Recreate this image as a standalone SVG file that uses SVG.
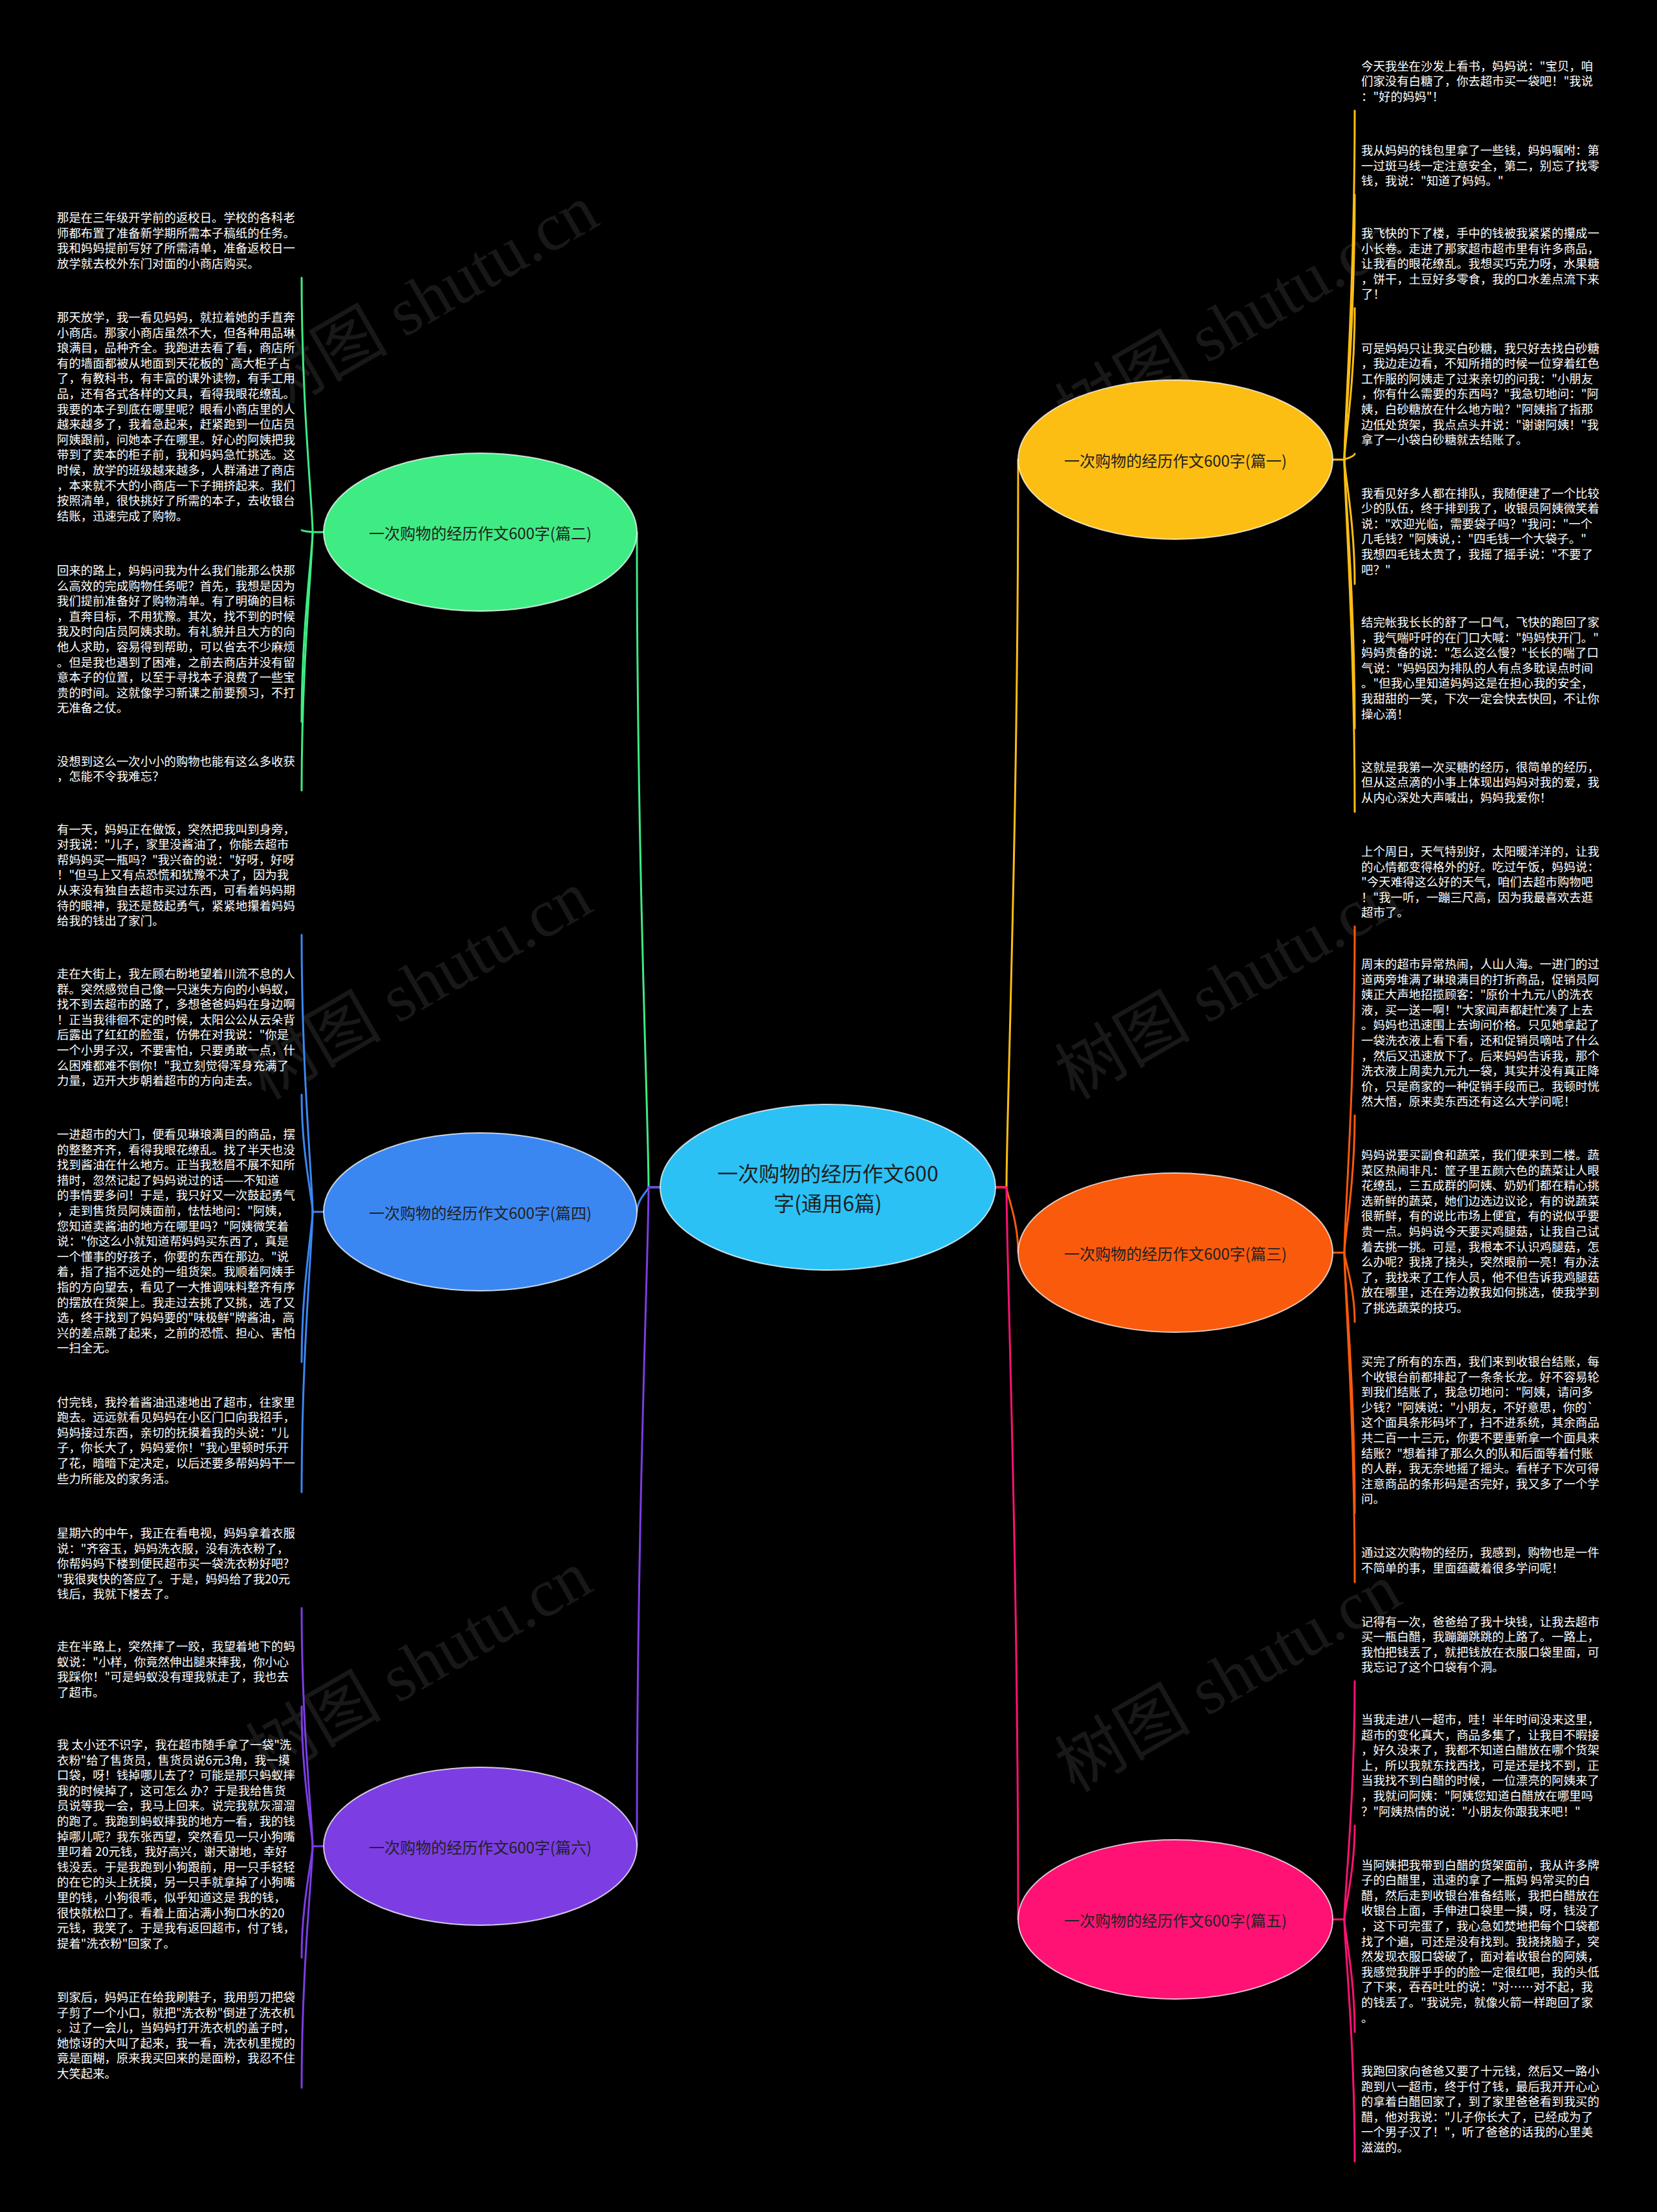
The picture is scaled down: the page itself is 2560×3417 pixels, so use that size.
<svg xmlns="http://www.w3.org/2000/svg" width="2560" height="3417" viewBox="0 0 2560 3417">
<style>
.t{font-family:"Noto Sans CJK SC","Noto Sans",sans-serif;font-size:18.4px;fill:#ffffff;dominant-baseline:central}
.nt{font-family:"Noto Sans CJK SC","Noto Sans",sans-serif;font-size:24px;fill:#222222;text-anchor:middle;dominant-baseline:central}
.ct{font-family:"Noto Sans CJK SC","Noto Sans",sans-serif;font-size:32px;fill:#1e1e1e;text-anchor:middle;dominant-baseline:central}
.wm{font-family:"Liberation Serif","Noto Sans CJK SC",serif;font-size:105px;fill:#181818}
.c{fill:none;stroke-width:3;stroke-linecap:round}
.ell{stroke:#ffffff;stroke-opacity:0.75;stroke-width:2}
</style>
<rect x="0" y="0" width="2560" height="3417" fill="#000000"/>
<g id="watermark">
<text class="wm" transform="translate(420,640) rotate(-30)">树图 shutu.cn</text>
<text class="wm" transform="translate(1660,680) rotate(-30)">树图 shutu.cn</text>
<text class="wm" transform="translate(410,1700) rotate(-30)">树图 shutu.cn</text>
<text class="wm" transform="translate(1660,1700) rotate(-30)">树图 shutu.cn</text>
<text class="wm" transform="translate(410,2750) rotate(-30)">树图 shutu.cn</text>
<text class="wm" transform="translate(1660,2770) rotate(-30)">树图 shutu.cn</text>
</g>
<g id="connectors">
<g stroke="#FDBE14" class="c">
<path d="M1538,1834 H1555 C1555,1721.6 1573,1272 1573,710"/>
<path d="M2059,710 H2077"/>
<path d="M2077,710 C2077,656.1 2093,440.5 2093,171"/>
<path d="M2077,710 C2077,669.1 2093,505.5 2093,301"/>
<path d="M2077,710 C2077,686.6 2093,593 2093,476"/>
<path d="M2077,710 C2077,709.1 2093,705.5 2093,701"/>
<path d="M2077,710 C2077,729.2 2093,806 2093,902"/>
<path d="M2077,710 C2077,751.5 2093,917.5 2093,1125"/>
<path d="M2077,710 C2077,764.4 2093,982 2093,1254"/>
</g>
<g stroke="#FA5A0C" class="c">
<path d="M1538,1834 H1555 C1555,1844.1 1573,1884.5 1573,1935"/>
<path d="M2059,1935 H2077"/>
<path d="M2077,1935 C2077,1884.6 2093,1683 2093,1431"/>
<path d="M2077,1935 C2077,1913.8 2093,1829 2093,1723"/>
<path d="M2077,1935 C2077,1945.7 2093,1988.5 2093,2042"/>
<path d="M2077,1935 C2077,1975.2 2093,2136 2093,2337"/>
<path d="M2077,1935 C2077,1985.9 2093,2189.5 2093,2444"/>
</g>
<g stroke="#FF1274" class="c">
<path d="M1538,1834 H1555 C1555,1947.1 1573,2399.5 1573,2965"/>
<path d="M2059,2965 H2077"/>
<path d="M2077,2965 C2077,2928.2 2093,2781 2093,2597"/>
<path d="M2077,2965 C2077,2950.5 2093,2892.5 2093,2820"/>
<path d="M2077,2965 C2077,2982.4 2093,3052 2093,3139"/>
<path d="M2077,2965 C2077,3002.4 2093,3152 2093,3339"/>
</g>
<g stroke="#3FEC84" class="c">
<path d="M1020,1834 H1002 C1002,1732.8 984,1328 984,822"/>
<path d="M500,822 H483"/>
<path d="M483,822 C483,782.7 466,625.5 466,429"/>
<path d="M483,822 C483,821.7 466,820.5 466,819"/>
<path d="M483,822 C483,851.3 466,968.5 466,1115"/>
<path d="M483,822 C483,861.9 466,1021.5 466,1221"/>
</g>
<g stroke="#3B87F2" class="c">
<path d="M1020,1834 H1002 C1002,1837.8 984,1853 984,1872"/>
<path d="M500,1872 H483"/>
<path d="M483,1872 C483,1829.2 466,1658 466,1444"/>
<path d="M483,1872 C483,1853.9 466,1781.5 466,1691"/>
<path d="M483,1872 C483,1895.2 466,1988 466,2104"/>
<path d="M483,1872 C483,1915.3 466,2088.5 466,2305"/>
</g>
<g stroke="#7C3DE3" class="c">
<path d="M1020,1834 H1002 C1002,1935.8 984,2343 984,2852"/>
<path d="M500,2852 H483"/>
<path d="M483,2852 C483,2815.2 466,2668 466,2484"/>
<path d="M483,2852 C483,2830.4 466,2744 466,2636"/>
<path d="M483,2852 C483,2869.2 466,2938 466,3024"/>
<path d="M483,2852 C483,2889.3 466,3038.5 466,3225"/>
</g>
</g>
<g id="node-center">
<ellipse class="ell" cx="1279" cy="1834" rx="259" ry="128" fill="#2BC1F5"/>
<text class="ct" x="1279" y="1811">一次购物的经历作文600</text>
<text class="ct" x="1279" y="1857">字(通用6篇)</text>
</g>
<g id="node-p1">
<ellipse class="ell" cx="1816" cy="710" rx="243" ry="123" fill="#FDBE14"/>
<text class="nt" x="1816" y="710">一次购物的经历作文600字(篇一)</text>
</g>
<g id="node-p3">
<ellipse class="ell" cx="1816" cy="1935" rx="243" ry="123" fill="#FA5A0C"/>
<text class="nt" x="1816" y="1935">一次购物的经历作文600字(篇三)</text>
</g>
<g id="node-p5">
<ellipse class="ell" cx="1816" cy="2965" rx="243" ry="123" fill="#FF1274"/>
<text class="nt" x="1816" y="2965">一次购物的经历作文600字(篇五)</text>
</g>
<g id="node-p2">
<ellipse class="ell" cx="742" cy="822" rx="242" ry="122" fill="#3FEC84"/>
<text class="nt" x="742" y="822">一次购物的经历作文600字(篇二)</text>
</g>
<g id="node-p4">
<ellipse class="ell" cx="742" cy="1872" rx="242" ry="122" fill="#3B87F2"/>
<text class="nt" x="742" y="1872">一次购物的经历作文600字(篇四)</text>
</g>
<g id="node-p6">
<ellipse class="ell" cx="742" cy="2852" rx="242" ry="122" fill="#7C3DE3"/>
<text class="nt" x="742" y="2852">一次购物的经历作文600字(篇六)</text>
</g>
<g id="leaf-p2-1"><text class="t" x="88" y="335"><tspan x="88" dy="0">那是在三年级开学前的返校日。学校的各科老</tspan><tspan x="88" dy="23.6">师都布置了准备新学期所需本子稿纸的任务。</tspan><tspan x="88" dy="23.6">我和妈妈提前写好了所需清单，准备返校日一</tspan><tspan x="88" dy="23.6">放学就去校外东门对面的小商店购买。</tspan></text></g>
<g id="leaf-p2-2"><text class="t" x="88" y="489"><tspan x="88" dy="0">那天放学，我一看见妈妈，就拉着她的手直奔</tspan><tspan x="88" dy="23.6">小商店。那家小商店虽然不大，但各种用品琳</tspan><tspan x="88" dy="23.6">琅满目，品种齐全。我跑进去看了看，商店所</tspan><tspan x="88" dy="23.6">有的墙面都被从地面到天花板的`高大柜子占</tspan><tspan x="88" dy="23.6">了，有教科书，有丰富的课外读物，有手工用</tspan><tspan x="88" dy="23.6">品，还有各式各样的文具，看得我眼花缭乱。</tspan><tspan x="88" dy="23.6">我要的本子到底在哪里呢？眼看小商店里的人</tspan><tspan x="88" dy="23.6">越来越多了，我着急起来，赶紧跑到一位店员</tspan><tspan x="88" dy="23.6">阿姨跟前，问她本子在哪里。好心的阿姨把我</tspan><tspan x="88" dy="23.6">带到了卖本的柜子前，我和妈妈急忙挑选。这</tspan><tspan x="88" dy="23.6">时候，放学的班级越来越多，人群涌进了商店</tspan><tspan x="88" dy="23.6">，本来就不大的小商店一下子拥挤起来。我们</tspan><tspan x="88" dy="23.6">按照清单，很快挑好了所需的本子，去收银台</tspan><tspan x="88" dy="23.6">结账，迅速完成了购物。</tspan></text></g>
<g id="leaf-p2-3"><text class="t" x="88" y="880"><tspan x="88" dy="0">回来的路上，妈妈问我为什么我们能那么快那</tspan><tspan x="88" dy="23.6">么高效的完成购物任务呢？首先，我想是因为</tspan><tspan x="88" dy="23.6">我们提前准备好了购物清单。有了明确的目标</tspan><tspan x="88" dy="23.6">，直奔目标，不用犹豫。其次，找不到的时候</tspan><tspan x="88" dy="23.6">我及时向店员阿姨求助。有礼貌并且大方的向</tspan><tspan x="88" dy="23.6">他人求助，容易得到帮助，可以省去不少麻烦</tspan><tspan x="88" dy="23.6">。但是我也遇到了困难，之前去商店并没有留</tspan><tspan x="88" dy="23.6">意本子的位置，以至于寻找本子浪费了一些宝</tspan><tspan x="88" dy="23.6">贵的时间。这就像学习新课之前要预习，不打</tspan><tspan x="88" dy="23.6">无准备之仗。</tspan></text></g>
<g id="leaf-p2-4"><text class="t" x="88" y="1174.5"><tspan x="88" dy="0">没想到这么一次小小的购物也能有这么多收获</tspan><tspan x="88" dy="23.6">，怎能不令我难忘？</tspan></text></g>
<g id="leaf-p4-1"><text class="t" x="88" y="1279.5"><tspan x="88" dy="0">有一天，妈妈正在做饭，突然把我叫到身旁，</tspan><tspan x="88" dy="23.6">对我说："儿子，家里没酱油了，你能去超市</tspan><tspan x="88" dy="23.6">帮妈妈买一瓶吗？"我兴奋的说："好呀，好呀</tspan><tspan x="88" dy="23.6">！"但马上又有点恐慌和犹豫不决了，因为我</tspan><tspan x="88" dy="23.6">从来没有独自去超市买过东西，可看着妈妈期</tspan><tspan x="88" dy="23.6">待的眼神，我还是鼓起勇气，紧紧地攥着妈妈</tspan><tspan x="88" dy="23.6">给我的钱出了家门。</tspan></text></g>
<g id="leaf-p4-2"><text class="t" x="88" y="1503"><tspan x="88" dy="0">走在大街上，我左顾右盼地望着川流不息的人</tspan><tspan x="88" dy="23.6">群。突然感觉自己像一只迷失方向的小蚂蚁，</tspan><tspan x="88" dy="23.6">找不到去超市的路了，多想爸爸妈妈在身边啊</tspan><tspan x="88" dy="23.6">！正当我徘徊不定的时候，太阳公公从云朵背</tspan><tspan x="88" dy="23.6">后露出了红红的脸蛋，仿佛在对我说："你是</tspan><tspan x="88" dy="23.6">一个小男子汉，不要害怕，只要勇敢一点，什</tspan><tspan x="88" dy="23.6">么困难都难不倒你！"我立刻觉得浑身充满了</tspan><tspan x="88" dy="23.6">力量，迈开大步朝着超市的方向走去。</tspan></text></g>
<g id="leaf-p4-3"><text class="t" x="88" y="1751"><tspan x="88" dy="0">一进超市的大门，便看见琳琅满目的商品，摆</tspan><tspan x="88" dy="23.6">的整整齐齐，看得我眼花缭乱。找了半天也没</tspan><tspan x="88" dy="23.6">找到酱油在什么地方。正当我愁眉不展不知所</tspan><tspan x="88" dy="23.6">措时，忽然记起了妈妈说过的话——不知道</tspan><tspan x="88" dy="23.6">的事情要多问！于是，我只好又一次鼓起勇气</tspan><tspan x="88" dy="23.6">，走到售货员阿姨面前，怯怯地问："阿姨，</tspan><tspan x="88" dy="23.6">您知道卖酱油的地方在哪里吗？"阿姨微笑着</tspan><tspan x="88" dy="23.6">说："你这么小就知道帮妈妈买东西了，真是</tspan><tspan x="88" dy="23.6">一个懂事的好孩子，你要的东西在那边。"说</tspan><tspan x="88" dy="23.6">着，指了指不远处的一组货架。我顺着阿姨手</tspan><tspan x="88" dy="23.6">指的方向望去，看见了一大推调味料整齐有序</tspan><tspan x="88" dy="23.6">的摆放在货架上。我走过去挑了又挑，选了又</tspan><tspan x="88" dy="23.6">选，终于找到了妈妈要的"味极鲜"牌酱油，高</tspan><tspan x="88" dy="23.6">兴的差点跳了起来，之前的恐慌、担心、害怕</tspan><tspan x="88" dy="23.6">一扫全无。</tspan></text></g>
<g id="leaf-p4-4"><text class="t" x="88" y="2164.5"><tspan x="88" dy="0">付完钱，我拎着酱油迅速地出了超市，往家里</tspan><tspan x="88" dy="23.6">跑去。远远就看见妈妈在小区门口向我招手，</tspan><tspan x="88" dy="23.6">妈妈接过东西，亲切的抚摸着我的头说："儿</tspan><tspan x="88" dy="23.6">子，你长大了，妈妈爱你！"我心里顿时乐开</tspan><tspan x="88" dy="23.6">了花，暗暗下定决定，以后还要多帮妈妈干一</tspan><tspan x="88" dy="23.6">些力所能及的家务活。</tspan></text></g>
<g id="leaf-p6-1"><text class="t" x="88" y="2367"><tspan x="88" dy="0">星期六的中午，我正在看电视，妈妈拿着衣服</tspan><tspan x="88" dy="23.6">说："齐容玉，妈妈洗衣服，没有洗衣粉了，</tspan><tspan x="88" dy="23.6">你帮妈妈下楼到便民超市买一袋洗衣粉好吧?</tspan><tspan x="88" dy="23.6">"我很爽快的答应了。于是，妈妈给了我20元</tspan><tspan x="88" dy="23.6">钱后，我就下楼去了。</tspan></text></g>
<g id="leaf-p6-2"><text class="t" x="88" y="2542"><tspan x="88" dy="0">走在半路上，突然摔了一跤，我望着地下的蚂</tspan><tspan x="88" dy="23.6">蚁说："小样，你竟然伸出腿来摔我，你小心</tspan><tspan x="88" dy="23.6">我踩你！"可是蚂蚁没有理我就走了，我也去</tspan><tspan x="88" dy="23.6">了超市。</tspan></text></g>
<g id="leaf-p6-3"><text class="t" x="88" y="2694"><tspan x="88" dy="0">我 太小还不识字，我在超市随手拿了一袋"洗</tspan><tspan x="88" dy="23.6">衣粉"给了售货员，售货员说6元3角，我一摸</tspan><tspan x="88" dy="23.6">口袋，呀！钱掉哪儿去了？可能是那只蚂蚁摔</tspan><tspan x="88" dy="23.6">我的时候掉了，这可怎么 办？于是我给售货</tspan><tspan x="88" dy="23.6">员说等我一会，我马上回来。说完我就灰溜溜</tspan><tspan x="88" dy="23.6">的跑了。我跑到蚂蚁摔我的地方一看，我的钱</tspan><tspan x="88" dy="23.6">掉哪儿呢？我东张西望，突然看见一只小狗嘴</tspan><tspan x="88" dy="23.6">里叼着 20元钱，我好高兴，谢天谢地，幸好</tspan><tspan x="88" dy="23.6">钱没丢。于是我跑到小狗跟前，用一只手轻轻</tspan><tspan x="88" dy="23.6">的在它的头上抚摸，另一只手就拿掉了小狗嘴</tspan><tspan x="88" dy="23.6">里的钱，小狗很乖，似乎知道这是 我的钱，</tspan><tspan x="88" dy="23.6">很快就松口了。看着上面沾满小狗口水的20</tspan><tspan x="88" dy="23.6">元钱，我笑了。于是我有返回超市，付了钱，</tspan><tspan x="88" dy="23.6">提着"洗衣粉"回家了。</tspan></text></g>
<g id="leaf-p6-4"><text class="t" x="88" y="3084"><tspan x="88" dy="0">到家后，妈妈正在给我刷鞋子，我用剪刀把袋</tspan><tspan x="88" dy="23.6">子剪了一个小口，就把"洗衣粉"倒进了洗衣机</tspan><tspan x="88" dy="23.6">。过了一会儿，当妈妈打开洗衣机的盖子时，</tspan><tspan x="88" dy="23.6">她惊讶的大叫了起来，我一看，洗衣机里搅的</tspan><tspan x="88" dy="23.6">竟是面糊，原来我买回来的是面粉，我忍不住</tspan><tspan x="88" dy="23.6">大笑起来。</tspan></text></g>
<g id="leaf-p1-1"><text class="t" x="2103" y="100.6"><tspan x="2103" dy="0">今天我坐在沙发上看书，妈妈说："宝贝，咱</tspan><tspan x="2103" dy="23.6">们家没有白糖了，你去超市买一袋吧！"我说</tspan><tspan x="2103" dy="23.6">："好的妈妈"！</tspan></text></g>
<g id="leaf-p1-2"><text class="t" x="2103" y="231"><tspan x="2103" dy="0">我从妈妈的钱包里拿了一些钱，妈妈嘱咐：第</tspan><tspan x="2103" dy="23.6">一过斑马线一定注意安全，第二，别忘了找零</tspan><tspan x="2103" dy="23.6">钱，我说："知道了妈妈。"</tspan></text></g>
<g id="leaf-p1-3"><text class="t" x="2103" y="359"><tspan x="2103" dy="0">我飞快的下了楼，手中的钱被我紧紧的攥成一</tspan><tspan x="2103" dy="23.6">小长卷。走进了那家超市超市里有许多商品，</tspan><tspan x="2103" dy="23.6">让我看的眼花缭乱。我想买巧克力呀，水果糖</tspan><tspan x="2103" dy="23.6">，饼干，土豆好多零食，我的口水差点流下来</tspan><tspan x="2103" dy="23.6">了！</tspan></text></g>
<g id="leaf-p1-4"><text class="t" x="2103" y="536.5"><tspan x="2103" dy="0">可是妈妈只让我买白砂糖，我只好去找白砂糖</tspan><tspan x="2103" dy="23.6">，我边走边看，不知所措的时候一位穿着红色</tspan><tspan x="2103" dy="23.6">工作服的阿姨走了过来亲切的问我："小朋友</tspan><tspan x="2103" dy="23.6">，你有什么需要的东西吗？"我急切地问："阿</tspan><tspan x="2103" dy="23.6">姨，白砂糖放在什么地方啦？"阿姨指了指那</tspan><tspan x="2103" dy="23.6">边低处货架，我点点头并说："谢谢阿姨！"我</tspan><tspan x="2103" dy="23.6">拿了一小袋白砂糖就去结账了。</tspan></text></g>
<g id="leaf-p1-5"><text class="t" x="2103" y="760.6"><tspan x="2103" dy="0">我看见好多人都在排队，我随便建了一个比较</tspan><tspan x="2103" dy="23.6">少的队伍，终于排到我了，收银员阿姨微笑着</tspan><tspan x="2103" dy="23.6">说："欢迎光临，需要袋子吗？"我问："一个</tspan><tspan x="2103" dy="23.6">几毛钱？"阿姨说，："四毛钱一个大袋子。"</tspan><tspan x="2103" dy="23.6">我想四毛钱太贵了，我摇了摇手说："不要了</tspan><tspan x="2103" dy="23.6">吧？"</tspan></text></g>
<g id="leaf-p1-6"><text class="t" x="2103" y="960"><tspan x="2103" dy="0">结完帐我长长的舒了一口气，飞快的跑回了家</tspan><tspan x="2103" dy="23.6">，我气喘吁吁的在门口大喊："妈妈快开门。"</tspan><tspan x="2103" dy="23.6">妈妈责备的说："怎么这么慢？"长长的喘了口</tspan><tspan x="2103" dy="23.6">气说："妈妈因为排队的人有点多耽误点时间</tspan><tspan x="2103" dy="23.6">。"但我心里知道妈妈这是在担心我的安全，</tspan><tspan x="2103" dy="23.6">我甜甜的一笑，下次一定会快去快回，不让你</tspan><tspan x="2103" dy="23.6">操心滴！</tspan></text></g>
<g id="leaf-p1-7"><text class="t" x="2103" y="1183.7"><tspan x="2103" dy="0">这就是我第一次买糖的经历，很简单的经历，</tspan><tspan x="2103" dy="23.6">但从这点滴的小事上体现出妈妈对我的爱，我</tspan><tspan x="2103" dy="23.6">从内心深处大声喊出，妈妈我爱你！</tspan></text></g>
<g id="leaf-p3-1"><text class="t" x="2103" y="1314"><tspan x="2103" dy="0">上个周日，天气特别好，太阳暖洋洋的，让我</tspan><tspan x="2103" dy="23.6">的心情都变得格外的好。吃过午饭，妈妈说：</tspan><tspan x="2103" dy="23.6">"今天难得这么好的天气，咱们去超市购物吧</tspan><tspan x="2103" dy="23.6">！"我一听，一蹦三尺高，因为我最喜欢去逛</tspan><tspan x="2103" dy="23.6">超市了。</tspan></text></g>
<g id="leaf-p3-2"><text class="t" x="2103" y="1488"><tspan x="2103" dy="0">周末的超市异常热闹，人山人海。一进门的过</tspan><tspan x="2103" dy="23.6">道两旁堆满了琳琅满目的打折商品，促销员阿</tspan><tspan x="2103" dy="23.6">姨正大声地招揽顾客："原价十九元八的洗衣</tspan><tspan x="2103" dy="23.6">液，买一送一啊！"大家闻声都赶忙凑了上去</tspan><tspan x="2103" dy="23.6">。妈妈也迅速围上去询问价格。只见她拿起了</tspan><tspan x="2103" dy="23.6">一袋洗衣液上看下看，还和促销员嘀咕了什么</tspan><tspan x="2103" dy="23.6">，然后又迅速放下了。后来妈妈告诉我，那个</tspan><tspan x="2103" dy="23.6">洗衣液上周卖九元九一袋，其实并没有真正降</tspan><tspan x="2103" dy="23.6">价，只是商家的一种促销手段而已。我顿时恍</tspan><tspan x="2103" dy="23.6">然大悟，原来卖东西还有这么大学问呢！</tspan></text></g>
<g id="leaf-p3-3"><text class="t" x="2103" y="1783"><tspan x="2103" dy="0">妈妈说要买副食和蔬菜，我们便来到二楼。蔬</tspan><tspan x="2103" dy="23.6">菜区热闹非凡：筐子里五颜六色的蔬菜让人眼</tspan><tspan x="2103" dy="23.6">花缭乱，三五成群的阿姨、奶奶们都在精心挑</tspan><tspan x="2103" dy="23.6">选新鲜的蔬菜，她们边选边议论，有的说蔬菜</tspan><tspan x="2103" dy="23.6">很新鲜，有的说比市场上便宜，有的说似乎要</tspan><tspan x="2103" dy="23.6">贵一点。妈妈说今天要买鸡腿菇，让我自己试</tspan><tspan x="2103" dy="23.6">着去挑一挑。可是，我根本不认识鸡腿菇，怎</tspan><tspan x="2103" dy="23.6">么办呢？我挠了挠头，突然眼前一亮！有办法</tspan><tspan x="2103" dy="23.6">了，我找来了工作人员，他不但告诉我鸡腿菇</tspan><tspan x="2103" dy="23.6">放在哪里，还在旁边教我如何挑选，使我学到</tspan><tspan x="2103" dy="23.6">了挑选蔬菜的技巧。</tspan></text></g>
<g id="leaf-p3-4"><text class="t" x="2103" y="2102"><tspan x="2103" dy="0">买完了所有的东西，我们来到收银台结账，每</tspan><tspan x="2103" dy="23.6">个收银台前都排起了一条条长龙。好不容易轮</tspan><tspan x="2103" dy="23.6">到我们结账了，我急切地问："阿姨，请问多</tspan><tspan x="2103" dy="23.6">少钱？"阿姨说："小朋友，不好意思，你的`</tspan><tspan x="2103" dy="23.6">这个面具条形码坏了，扫不进系统，其余商品</tspan><tspan x="2103" dy="23.6">共二百一十三元，你要不要重新拿一个面具来</tspan><tspan x="2103" dy="23.6">结账？"想着排了那么久的队和后面等着付账</tspan><tspan x="2103" dy="23.6">的人群，我无奈地摇了摇头。看样子下次可得</tspan><tspan x="2103" dy="23.6">注意商品的条形码是否完好，我又多了一个学</tspan><tspan x="2103" dy="23.6">问。</tspan></text></g>
<g id="leaf-p3-5"><text class="t" x="2103" y="2397"><tspan x="2103" dy="0">通过这次购物的经历，我感到，购物也是一件</tspan><tspan x="2103" dy="23.6">不简单的事，里面蕴藏着很多学问呢！</tspan></text></g>
<g id="leaf-p5-1"><text class="t" x="2103" y="2503.6"><tspan x="2103" dy="0">记得有一次，爸爸给了我十块钱，让我去超市</tspan><tspan x="2103" dy="23.6">买一瓶白醋，我蹦蹦跳跳的上路了。一路上，</tspan><tspan x="2103" dy="23.6">我怕把钱丢了，就把钱放在衣服口袋里面，可</tspan><tspan x="2103" dy="23.6">我忘记了这个口袋有个洞。</tspan></text></g>
<g id="leaf-p5-2"><text class="t" x="2103" y="2655"><tspan x="2103" dy="0">当我走进八一超市，哇！半年时间没来这里，</tspan><tspan x="2103" dy="23.6">超市的变化真大，商品多集了，让我目不暇接</tspan><tspan x="2103" dy="23.6">，好久没来了，我都不知道白醋放在哪个货架</tspan><tspan x="2103" dy="23.6">上，所以我就东找西找，可是还是找不到，正</tspan><tspan x="2103" dy="23.6">当我找不到白醋的时候，一位漂亮的阿姨来了</tspan><tspan x="2103" dy="23.6">，我就问阿姨："阿姨您知道白醋放在哪里吗</tspan><tspan x="2103" dy="23.6">？"阿姨热情的说："小朋友你跟我来吧！"</tspan></text></g>
<g id="leaf-p5-3"><text class="t" x="2103" y="2879.5"><tspan x="2103" dy="0">当阿姨把我带到白醋的货架面前，我从许多牌</tspan><tspan x="2103" dy="23.6">子的白醋里，迅速的拿了一瓶妈 妈常买的白</tspan><tspan x="2103" dy="23.6">醋，然后走到收银台准备结账，我把白醋放在</tspan><tspan x="2103" dy="23.6">收银台上面，手伸进口袋里一摸，呀，钱没了</tspan><tspan x="2103" dy="23.6">，这下可完蛋了，我心急如焚地把每个口袋都</tspan><tspan x="2103" dy="23.6">找了个遍，可还是没有找到。我挠挠脑子，突</tspan><tspan x="2103" dy="23.6">然发现衣服口袋破了，面对着收银台的阿姨，</tspan><tspan x="2103" dy="23.6">我感觉我胖乎乎的的脸一定很红吧，我的头低</tspan><tspan x="2103" dy="23.6">了下来，吞吞吐吐的说："对……对不起，我</tspan><tspan x="2103" dy="23.6">的钱丢了。"我说完，就像火箭一样跑回了家</tspan><tspan x="2103" dy="23.6">。</tspan></text></g>
<g id="leaf-p5-4"><text class="t" x="2103" y="3198"><tspan x="2103" dy="0">我跑回家向爸爸又要了十元钱，然后又一路小</tspan><tspan x="2103" dy="23.6">跑到八一超市，终于付了钱，最后我开开心心</tspan><tspan x="2103" dy="23.6">的拿着白醋回家了，到了家里爸爸看到我买的</tspan><tspan x="2103" dy="23.6">醋，他对我说："儿子你长大了，已经成为了</tspan><tspan x="2103" dy="23.6">一个男子汉了！"，听了爸爸的话我的心里美</tspan><tspan x="2103" dy="23.6">滋滋的。</tspan></text></g>
</svg>
